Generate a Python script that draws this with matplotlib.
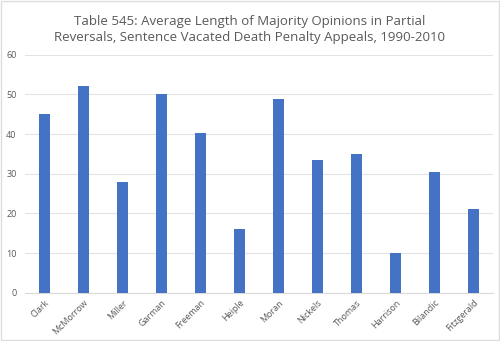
import matplotlib.pyplot as plt
import numpy as np

names = ['Clark', 'McMorrow', 'Miller', 'Garman', 'Freeman', 'Heiple', 'Moran',
         'Nickels', 'Thomas', 'Harrison', 'Bilandic', 'Fitzgerald']
lengths = [45.0, 52.1, 28.0, 50.0, 40.2, 16.0, 48.9, 33.5, 34.9, 9.9, 30.3, 21.0]
y_ticks = [0, 10, 20, 30, 40, 50, 60]

plt.rcParams['font.family'] = ['Open Sans', 'DejaVu Sans']
grey = '#595959'

fig = plt.figure(figsize=(5, 3.41), dpi=100)
ax = fig.add_axes([0.05, 0.1417, 0.936, 0.698])

x = np.arange(len(names))
ax.bar(x, lengths, width=0.3, color='#4472C4', zorder=3)

ax.set_xlim(-0.5, len(names) - 0.5)
ax.set_ylim(0, 60)
ax.set_yticks(y_ticks)
ax.tick_params(axis='y', labelsize=6.5, colors=grey, length=0, pad=6)
ax.set_xticks(x)
ax.set_xticklabels(names, rotation=45, ha='right', rotation_mode='anchor')
ax.tick_params(axis='x', labelsize=6.5, colors=grey, length=0, pad=4)
ax.grid(axis='y', color='#e3e3e3', linewidth=0.8, zorder=0)
for s in ['top', 'right', 'left']:
    ax.spines[s].set_visible(False)
ax.spines['bottom'].set_color('#d9d9d9')

fig.text(0.5, 0.955, 'Table 545: Average Length of Majority Opinions in Partial\n'
         'Reversals, Sentence Vacated Death Penalty Appeals, 1990-2010',
         ha='center', va='top', fontsize=9.5, color=grey, linespacing=1.3)

fig.patches.append(plt.Rectangle((0.002, 0.003), 0.995, 0.994, transform=fig.transFigure,
                                 fill=False, edgecolor='#dddddd', linewidth=1))

fig.savefig('out.png', dpi=100)
